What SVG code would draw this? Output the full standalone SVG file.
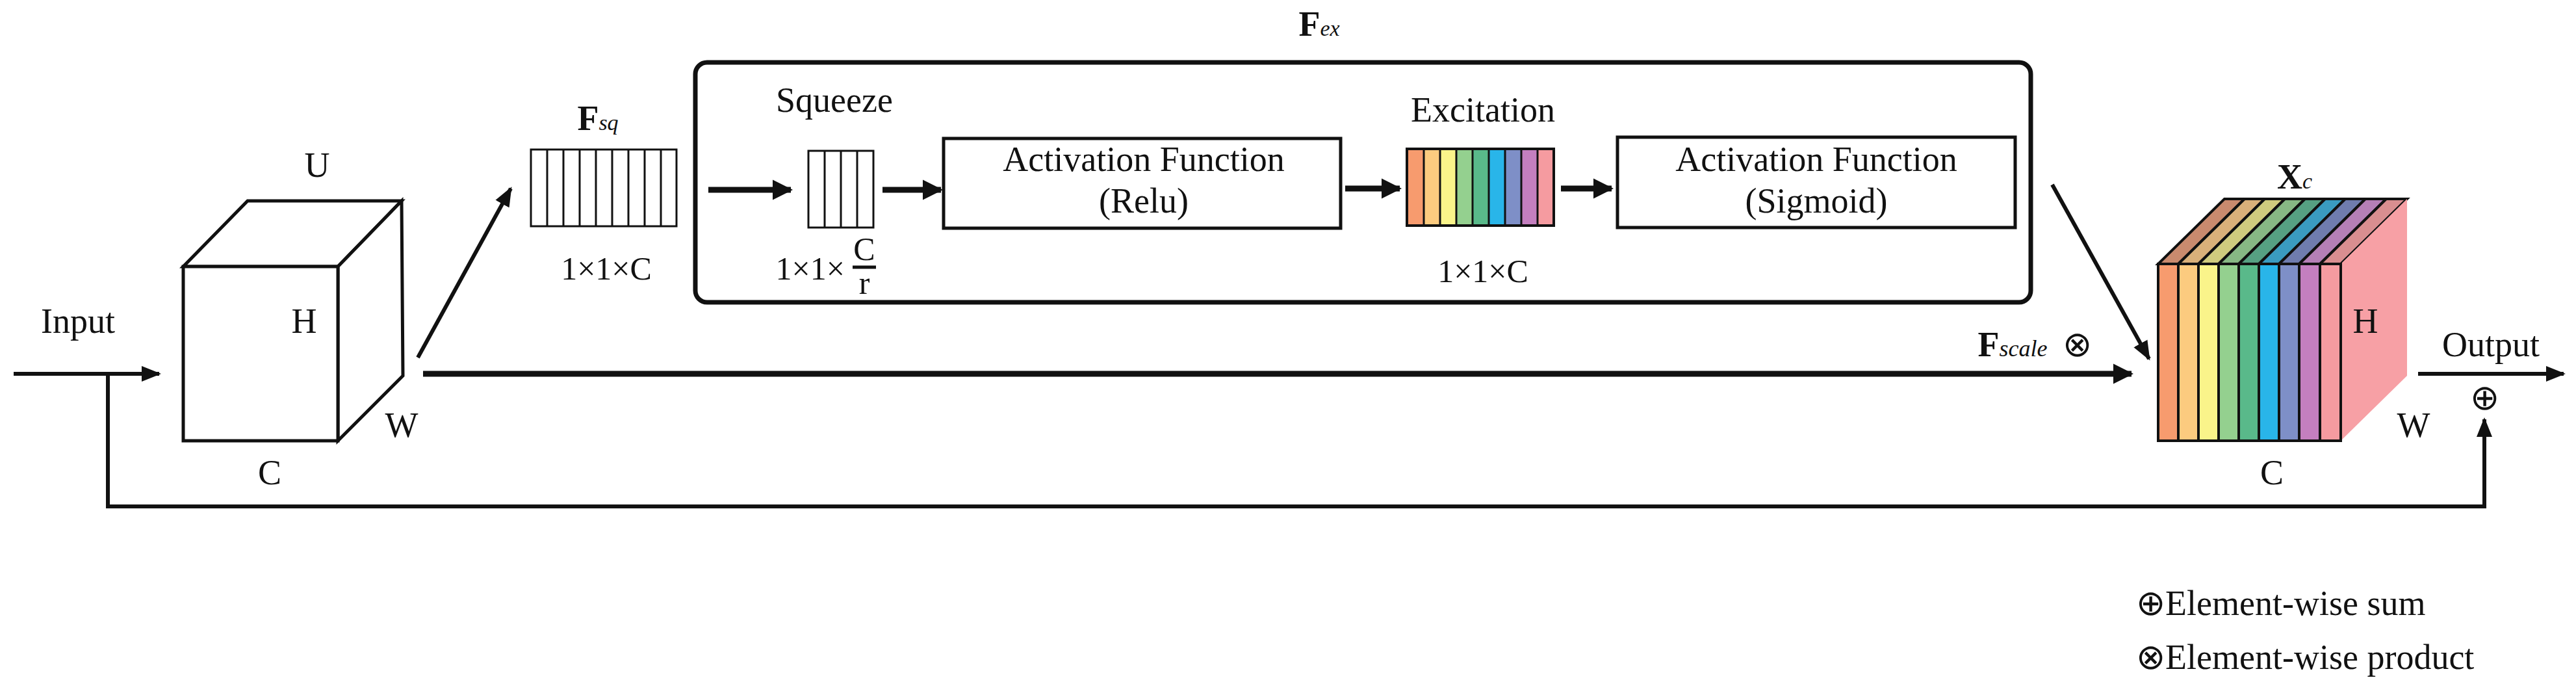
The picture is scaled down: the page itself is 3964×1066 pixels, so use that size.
<svg xmlns="http://www.w3.org/2000/svg" width="3964" height="1066" viewBox="0 0 3964 1066">
<style>
text{font-family:"Liberation Serif","Times New Roman",serif;fill:#111}
.t{font-size:54px}
.b{font-size:50px}
.ln{stroke:#111;stroke-width:6;fill:none}
.thk{stroke:#111;stroke-width:9;fill:none}
.bx{stroke:#111;stroke-width:5;fill:#fff}
.cell{stroke:#111;stroke-width:3;fill:#fff}
.st{stroke:#111;stroke-width:3}
</style>
<defs>
<marker id="ah" viewBox="0 0 10 10" refX="9" refY="5" markerWidth="5" markerHeight="5" orient="auto" markerUnits="strokeWidth"><path d="M0,1 L10,5 L0,9 z" fill="#111"/></marker>
<marker id="ah2" viewBox="0 0 10 10" refX="9" refY="5" markerWidth="3.5" markerHeight="3.5" orient="auto" markerUnits="strokeWidth"><path d="M0,0 L10,5 L0,10 z" fill="#111"/></marker>
</defs>
<g id="connectors">
<line class="ln" x1="21" y1="575" x2="245" y2="575" marker-end="url(#ah)"/>
<polyline class="ln" points="166,575 166,779 3823,779 3823,645" marker-end="url(#ah)"/>
<line class="thk" x1="651" y1="575" x2="3280" y2="575" marker-end="url(#ah2)"/>
<line class="ln" x1="643" y1="550" x2="786" y2="290" marker-end="url(#ah)"/>
<line class="thk" x1="1090" y1="292" x2="1217" y2="292" marker-end="url(#ah2)"/>
<line class="thk" x1="1358" y1="292" x2="1448" y2="292" marker-end="url(#ah2)"/>
<line class="thk" x1="2070" y1="290" x2="2154" y2="290" marker-end="url(#ah2)"/>
<line class="thk" x1="2402" y1="290" x2="2480" y2="290" marker-end="url(#ah2)"/>
<line class="ln" x1="3158" y1="284" x2="3307" y2="552" marker-end="url(#ah)"/>
<line class="ln" x1="3721" y1="575" x2="3945" y2="575" marker-end="url(#ah)"/>
</g>
<g id="input">
<text class="t" x="120" y="512" text-anchor="middle">Input</text>
</g>
<g id="cubeU">
<polygon class="bx" points="282,410 381,309 618,309 520,410"/>
<polygon class="bx" points="520,410 618,309 620,578 520,678"/>
<rect class="bx" x="282" y="410" width="238" height="268"/>
<text class="t" x="488" y="272" text-anchor="middle">U</text>
<text class="t" x="468" y="512" text-anchor="middle">H</text>
<text class="t" x="618" y="672" text-anchor="middle">W</text>
<text class="t" x="415" y="745" text-anchor="middle">C</text>
</g>
<g id="fsq">
<rect class="cell" x="817" y="230" width="224" height="118"/>
<path class="st" d="M842,230V348M867,230V348M892,230V348M917,230V348M942,230V348M967,230V348M992,230V348M1017,230V348"/>
<text class="t" x="920" y="200" text-anchor="middle"><tspan font-weight="bold">F</tspan><tspan font-style="italic" font-size="34">sq</tspan></text>
<text class="b" x="933" y="430" text-anchor="middle">1×1×C</text>
</g>
<g id="fex">
<rect x="1070" y="96" width="2055" height="369" rx="18" fill="none" stroke="#111" stroke-width="7"/>
<text class="t" x="2030" y="55" text-anchor="middle"><tspan font-weight="bold">F</tspan><tspan font-style="italic" font-size="34">ex</tspan></text>
</g>
<g id="squeeze">
<text class="t" x="1284" y="172" text-anchor="middle">Squeeze</text>
<rect class="cell" x="1244" y="232" width="100" height="118"/>
<path class="st" d="M1269,232V350M1294,232V350M1319,232V350"/>
<text class="b" x="1300" y="430" text-anchor="end">1×1×</text>
<text class="b" x="1330" y="400" text-anchor="middle">C</text>
<line x1="1312" y1="411" x2="1348" y2="411" stroke="#111" stroke-width="5"/>
<text class="b" x="1330" y="452" text-anchor="middle">r</text>
</g>
<g id="relu">
<rect class="bx" x="1452" y="213" width="611" height="138"/>
<text class="t" x="1760" y="263" text-anchor="middle">Activation Function</text>
<text class="t" x="1760" y="327" text-anchor="middle">(Relu)</text>
</g>
<g id="excitation">
<text class="t" x="2282" y="187" text-anchor="middle">Excitation</text>
<rect x="2165" y="229" width="26" height="118" fill="#F79B6E"/>
<rect x="2191" y="229" width="25" height="118" fill="#FCCB7F"/>
<rect x="2216" y="229" width="25" height="118" fill="#FAF48A"/>
<rect x="2241" y="229" width="25" height="118" fill="#94D08F"/>
<rect x="2266" y="229" width="25" height="118" fill="#59B98A"/>
<rect x="2291" y="229" width="25" height="118" fill="#29B5E9"/>
<rect x="2316" y="229" width="25" height="118" fill="#7E8FC7"/>
<rect x="2341" y="229" width="25" height="118" fill="#C47FBF"/>
<rect x="2366" y="229" width="25" height="118" fill="#F59BA0"/>
<path class="st" d="M2191,229V347M2216,229V347M2241,229V347M2266,229V347M2291,229V347M2316,229V347M2341,229V347M2366,229V347"/>
<rect x="2165" y="229" width="226" height="118" fill="none" stroke="#111" stroke-width="4"/>
<text class="b" x="2282" y="434" text-anchor="middle">1×1×C</text>
</g>
<g id="sigmoid">
<rect class="bx" x="2489" y="211" width="612" height="139" stroke="#444"/>
<text class="t" x="2795" y="263" text-anchor="middle">Activation Function</text>
<text class="t" x="2795" y="327" text-anchor="middle">(Sigmoid)</text>
</g>
<g id="cubeX">
<g stroke="#111" stroke-width="4">
<polygon points="3321,406 3352,406 3454,306 3423,306" fill="#C98A6E"/>
<polygon points="3352,406 3383,406 3485,306 3454,306" fill="#D9B07A"/>
<polygon points="3383,406 3414,406 3516,306 3485,306" fill="#CFCB7E"/>
<polygon points="3414,406 3445,406 3547,306 3516,306" fill="#87B884"/>
<polygon points="3445,406 3476,406 3578,306 3547,306" fill="#56A082"/>
<polygon points="3476,406 3507,406 3609,306 3578,306" fill="#3A9BC0"/>
<polygon points="3507,406 3538,406 3640,306 3609,306" fill="#6F7CAE"/>
<polygon points="3538,406 3570,406 3672,306 3640,306" fill="#B57FB6"/>
<polygon points="3570,406 3602,406 3704,306 3672,306" fill="#D98E90"/>
<polygon points="3602,406 3704,306 3704,578 3602,678" fill="#F7A0A5" stroke="none"/>
<rect x="3321" y="406" width="31" height="272" fill="#F79B6E"/>
<rect x="3352" y="406" width="31" height="272" fill="#FCCB7F"/>
<rect x="3383" y="406" width="31" height="272" fill="#FAF48A"/>
<rect x="3414" y="406" width="31" height="272" fill="#94D08F"/>
<rect x="3445" y="406" width="31" height="272" fill="#59B98A"/>
<rect x="3476" y="406" width="31" height="272" fill="#29B5E9"/>
<rect x="3507" y="406" width="31" height="272" fill="#7E8FC7"/>
<rect x="3538" y="406" width="32" height="272" fill="#C47FBF"/>
<rect x="3570" y="406" width="32" height="272" fill="#F59BA0"/>
</g>
<text class="t" x="3531" y="290" text-anchor="middle"><tspan font-weight="bold">X</tspan><tspan font-style="italic" font-size="34">c</tspan></text>
<text class="t" x="3640" y="512" text-anchor="middle" fill="#5a1010">H</text>
<text class="t" x="3714" y="672" text-anchor="middle">W</text>
<text class="t" x="3496" y="745" text-anchor="middle">C</text>
</g>
<g id="fscale">
<text class="t" x="3097" y="548" text-anchor="middle"><tspan font-weight="bold">F</tspan><tspan font-style="italic" font-size="36">scale</tspan></text>
<text class="t" x="3196" y="548" text-anchor="middle">⊗</text>
</g>
<g id="output">
<text class="t" x="3833" y="548" text-anchor="middle">Output</text>
<text class="t" x="3823" y="630" text-anchor="middle">⊕</text>
</g>
<g id="legend">
<text class="t" x="3287" y="946">⊕Element-wise sum</text>
<text class="t" x="3287" y="1029">⊗Element-wise product</text>
</g>
</svg>
